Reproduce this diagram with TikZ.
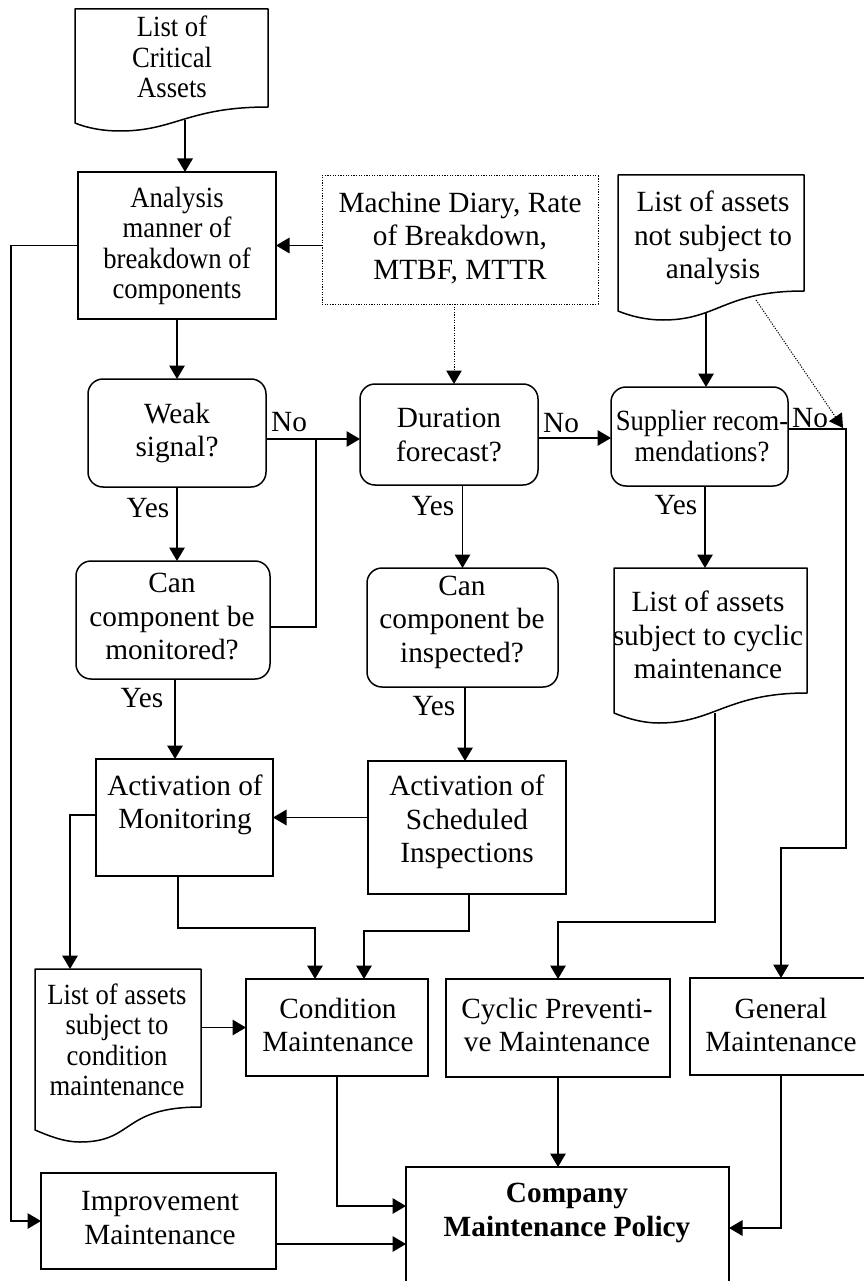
\documentclass[tikz,border=0pt]{standalone}
\usepackage{fontspec}
\setmainfont{Liberation Serif}
\newfontfamily\narrowserif[FakeStretch=0.91]{Liberation Serif}
\usetikzlibrary{calc,arrows.meta}

\newcommand\fbig{\fontsize{29.3}{33.5}\selectfont}
\newcommand\fsmall{\narrowserif\fontsize{29.3}{30.5}\selectfont}
% an empty framed node spanning (x1,y1)-(x2,y2): style, name, x1, y1, x2, y2
\newcommand\boxat[6]{\node[#1, minimum width={(#5)-(#3)}, minimum height={(#6)-(#4)}] (#2) at ({((#3)+(#5))/2},{((#4)+(#6))/2}) {};}
% document outline with a wavy lower edge: node, drop of left corner, drop of lowest point
\newcommand\docoutline[3]{%
  \draw[docline] (#1.north west) -- (#1.north east) -- (#1.south east)
    .. controls ($(#1.south east)+(-80,0)$) and ($(#1.south west)+(100,#3)$) .. ($(#1.south west)+(45,#3)$)
    .. controls ($(#1.south west)+(28,#3)$) and ($(#1.south west)+(12,#2+5)$) .. ($(#1.south west)+(0,#2)$)
    -- cycle;}

\begin{document}
\begin{tikzpicture}[x=1pt,y=-1pt,
  frame/.style={draw, line width=1.5, inner sep=0, outer sep=0},
  roundframe/.style={frame, rounded corners=15},
  docbody/.style={inner sep=0, outer sep=0},
  dotframe/.style={draw, line width=1, dash pattern=on 1.2 off 1.4, inner sep=0, outer sep=0},
  docline/.style={line width=1.5, line join=round},
  txt/.style={align=center, inner sep=0, font=\fbig},
  txtsmall/.style={align=center, inner sep=0, font=\fsmall},
  flow/.style={line width=1.5, -{Triangle[length=13.5, width=15.5]}},
  flowplain/.style={line width=1.5},
  dotflow/.style={line width=1, dash pattern=on 1.2 off 1.4, -{Triangle[length=13.5, width=15.5]}}]
\useasboundingbox (0,0) rectangle (863,1281);

% ---- shapes ----
\boxat{docbody}{crit}{75}{9}{268}{107}
\boxat{frame}{ana}{78}{172}{276}{319}
\boxat{dotframe}{diary}{322}{176}{598}{304}
\boxat{docbody}{notsub}{618}{175}{804}{291}
\boxat{roundframe}{weak}{88}{379}{266}{487}
\boxat{roundframe}{dur}{360}{384}{538}{485}
\boxat{roundframe}{sup}{611}{387}{788}{486}
\boxat{roundframe}{canmon}{76}{561}{270}{679}
\boxat{roundframe}{caninsp}{367}{568}{558}{687}
\boxat{docbody}{cyclist}{614}{568}{807}{693}
\boxat{frame}{actmon}{96}{759}{273}{876}
\boxat{frame}{actsch}{368}{761}{566}{894}
\boxat{docbody}{condlist}{35}{969}{201}{1107}
\boxat{frame}{cond}{246}{979}{428}{1076}
\boxat{frame}{cyc}{446}{979}{670}{1077}
\boxat{frame}{gen}{690}{978}{872}{1075}
\boxat{frame}{comp}{406}{1167}{729}{1290}
\boxat{frame}{impr}{41}{1173}{276}{1269}

\docoutline{crit}{16}{24}
\docoutline{notsub}{20}{29}
\docoutline{cyclist}{20}{30}
\docoutline{condlist}{23}{35}

% ---- texts ----
\node[txtsmall] (crit-t) at (172,57) {List of\\Critical\\Assets};
\node[txtsmall] (ana-t) at (177,246) {Analysis\\manner of\\breakdown of\\components};
\node[txt] (diary-t) at (460,238) {Machine Diary, Rate\\of Breakdown,\\MTBF, MTTR};
\node[txt] (notsub-t) at (713,238) {List of assets\\not subject to\\analysis};
\node[txt] (weak-t) at (177,433) {Weak\\signal?};
\node[txt] (dur-t) at (449,435) {Duration\\forecast?};
\node[txtsmall] (sup-t) at (702,436) {Supplier recom-\\mendations?};
\node[txt] (canmon-t) at (172,617) {Can\\component be\\monitored?};
\node[txt] (caninsp-t) at (462,622) {Can\\component be\\inspected?};
\node[txt] (cyclist-t) at (708,635) {List of assets\\subject to cyclic\\maintenance};
\node[txt] (actmon-t) at (185,805) {Activation of\\Monitoring};
\node[txt] (actsch-t) at (467,822) {Activation of\\Scheduled\\Inspections};
\node[txtsmall] (condlist-t) at (117,1040) {List of assets\\subject to\\condition\\maintenance};
\node[txt] (cond-t) at (338,1025) {Condition\\Maintenance};
\node[txt] (cyc-t) at (557,1025) {Cyclic Preventi-\\ve Maintenance};
\node[txt] (gen-t) at (781,1025) {General\\Maintenance};
\node[txt, font=\fbig\bfseries] (comp-t) at (567,1213) {Company\\Maintenance Policy};
\node[txt] (impr-t) at (160,1218) {Improvement\\Maintenance};

% ---- connectors ----
\draw[flow] ($(crit.south)+(13.5,13)$) coordinate (critout) -- (critout |- ana.north);
\draw[flow] (diary.west |- ana.east) -- (ana.east);
\draw[flow] (ana.south) -- (weak.north);
\draw[flow] (ana.west) -- ++(-67,0) |- (impr.west);
\draw[dotflow] ($(diary.south)+(-6,0)$) coordinate (diaryout) -- (diaryout |- dur.north);

\draw[flow] ($(weak.east)+(0,6)$) coordinate (weakno) -- (weakno -| dur.west);
\node[txt] (no1) at (289,422) {No};
\draw[flowplain] ($(canmon.east)+(0,7)$) -| ($(weakno)+(50,0)$);
\draw[flow] (weak.south) -- (weak.south |- canmon.north);
\node[txt] (yes1) at (148,508) {Yes};

\draw[flow] ($(dur.east)+(0,3.5)$) coordinate (durno) -- (durno -| sup.west);
\node[txt] (no2) at (561,423) {No};
\draw[flow] (caninsp.north |- dur.south) -- (caninsp.north);
\node[txt] (yes2) at (433,506) {Yes};

\draw[flow] ($(notsub.south)+(-5,21)$) coordinate (nsout) -- (nsout |- sup.north);
\coordinate (supturn) at (846,429);
\draw[dotflow] ($(notsub.south)+(45,9)$) -- ($(supturn)+(-3,-1)$);
\draw[flow] ($(sup.east)+(0,-7.5)$) -- (supturn) -- ++(0,419) -| (gen.north);
\node[txt] (no3) at (810,418) {No};
\draw[flow] ($(sup.south)+(5.5,0)$) coordinate (supyes) -- (supyes |- cyclist.north);
\node[txt] (yes3) at (676,505) {Yes};
\draw[flow] ($(cyclist.south)+(4.5,20)$) -- ++(0,209) -| (cyc.north);

\draw[flow] ($(canmon.south)+(2,0)$) coordinate (cmout) -- (cmout |- actmon.north);
\node[txt] (yes4) at (142,698) {Yes};
\draw[flow] ($(caninsp.south)+(2.5,0)$) coordinate (ciout) -- (ciout |- actsch.north);
\node[txt] (yes5) at (434,706) {Yes};
\draw[flow] (actsch.west |- actmon.east) -- (actmon.east);
\draw[flow] ($(actmon.west)+(0,-2.5)$) -| ($(condlist.north west)+(35,0)$);
\draw[flow] ($(actmon.south)+(-6.5,0)$) -- ++(0,52) -| ($(cond.north)+(-22,0)$);
\draw[flow] ($(actsch.south)+(2,0)$) -- ++(0,37) -| ($(cond.north)+(27,0)$);
\draw[flow] (condlist.east |- cond.west) -- (cond.west);

\draw[flow] (cond.south) |- ($(comp.north west)+(0,39)$);
\draw[flow] (cyc.south) -- (cyc.south |- comp.north);
\draw[flow] (gen.south) |- ($(comp.north east)+(0,61)$);
\draw[flow] ($(impr.east)+(0,23)$) coordinate (imout) -- (imout -| comp.west);
\end{tikzpicture}
\end{document}
